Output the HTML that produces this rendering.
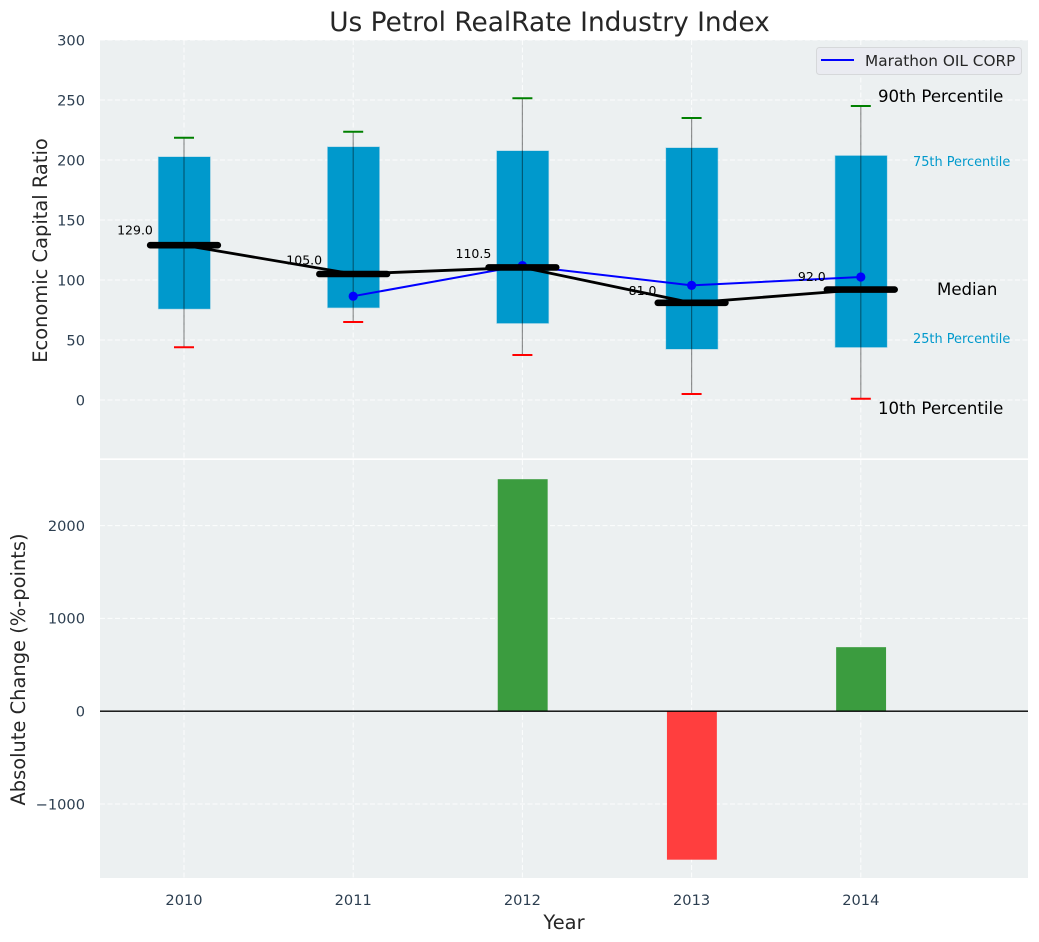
<!DOCTYPE html>
<html>
<head>
<meta charset="utf-8">
<title>Us Petrol RealRate Industry Index</title>
<style>
html,body{margin:0;padding:0;background:#fff;}
svg{display:block;font-family:"DejaVu Sans","Liberation Sans",sans-serif;}
</style>
</head>
<body>
<svg id="chart" xmlns="http://www.w3.org/2000/svg" width="1039" height="942" viewBox="0 0 1039 942">
  <rect x="0" y="0" width="1039" height="942" fill="#ffffff"/>
  <rect x="100" y="40" width="928" height="418.3" fill="#ecf0f1"/>
  <rect x="100" y="460" width="928" height="418" fill="#ecf0f1"/>
  <g id="layer-grid"></g>
  <g id="layer-top"></g>
  <g id="layer-bottom"></g>
  <g id="layer-ticks"></g>
  <text x="549.5" y="31" text-anchor="middle" font-size="26.4px" fill="#262626">Us Petrol RealRate Industry Index</text>
  <text transform="translate(47,250.5) rotate(-90)" text-anchor="middle" font-size="19.44px" fill="#262626">Economic Capital Ratio</text>
  <text transform="translate(25,669.5) rotate(-90)" text-anchor="middle" font-size="19.44px" fill="#262626">Absolute Change (%-points)</text>
  <text x="564" y="929" text-anchor="middle" font-size="19.44px" fill="#262626">Year</text>
  <text x="878" y="102" font-size="16.6px" fill="#000000">90th Percentile</text>
  <text x="913" y="166" font-size="12.9px" fill="#0099cc">75th Percentile</text>
  <text x="937" y="295" font-size="16.6px" fill="#000000">Median</text>
  <text x="913" y="343" font-size="12.9px" fill="#0099cc">25th Percentile</text>
  <text x="878" y="414" font-size="16.6px" fill="#000000">10th Percentile</text>
  <g>
    <rect x="816.5" y="47.5" width="205" height="27" rx="3" fill="#eaebf1" stroke="#d6d8da" stroke-width="1"/>
    <line x1="821" y1="60" x2="854" y2="60" stroke="#0000ff" stroke-width="2"/>
    <text x="865" y="66" font-size="15.3px" fill="#262626">Marathon OIL CORP</text>
  </g>
</svg>
<script>
const years = [2010, 2011, 2012, 2013, 2014];
const p90 = [218.5, 223.5, 251.5, 235, 245];
const p75 = [202.5, 210.8, 207.5, 210, 203.5];
const medians = [129, 105, 110.5, 81, 92];
const p25 = [76, 77, 64, 42.5, 44];
const p10 = [44, 65, 37.5, 5, 1];
const company = [null, 86.5, 112, 95.5, 102.5];
const changes = [0, 0, 2500, -1600, 690];
const topTicks = [0, 50, 100, 150, 200, 250, 300];
const bottomTicks = [-1000, 0, 1000, 2000];

const NS = 'http://www.w3.org/2000/svg';
const xScale = function (v) { return 184 + (v - 2010) * 169.2; };
const yTop = function (v) { return 400 - v * 1.2; };
const yBottom = function (v) { return 711.2 - v * 0.0928; };
const boxWidth = 0.305 * 169.2;
const medianWidth = 0.4 * 169.2;
const barWidth = 0.295 * 169.2;
const capHalf = 10;

function make(parent, tag, attrs, text) {
  const el = document.createElementNS(NS, tag);
  Object.keys(attrs).forEach(function (k) { el.setAttribute(k, attrs[k]); });
  if (text !== undefined) el.textContent = text;
  parent.appendChild(el);
  return el;
}
function tickText(v) { return v < 0 ? '\u2212' + Math.abs(v) : String(v); }

const grid = document.getElementById('layer-grid');
const topLayer = document.getElementById('layer-top');
const bottomLayer = document.getElementById('layer-bottom');
const ticks = document.getElementById('layer-ticks');
const gridStyle = { stroke: '#ffffff', 'stroke-width': 1, 'stroke-dasharray': '5 2.5', 'stroke-opacity': 0.85 };

topTicks.forEach(function (t) {
  const line = make(grid, 'line', Object.assign({ x1: 100, x2: 1028, y1: yTop(t), y2: yTop(t) }, gridStyle));
  
  
  const label = make(ticks, 'text', { x: 85, y: yTop(t) + 5.3, 'text-anchor': 'end', 'font-size': '14.6px', fill: '#2c3e50' }, tickText(t));
  
  
});
bottomTicks.forEach(function (t) {
  const line = make(grid, 'line', Object.assign({ x1: 100, x2: 1028, y1: yBottom(t), y2: yBottom(t) }, gridStyle));
  
  
  const label = make(ticks, 'text', { x: 85, y: yBottom(t) + 5.3, 'text-anchor': 'end', 'font-size': '14.6px', fill: '#2c3e50' }, tickText(t));
  
  
});
years.forEach(function (yr) {
  const upper = make(grid, 'line', Object.assign({ x1: xScale(yr), x2: xScale(yr), y1: 40, y2: 458.3 }, gridStyle));
  
  
  const lower = make(grid, 'line', Object.assign({ x1: xScale(yr), x2: xScale(yr), y1: 460, y2: 878 }, gridStyle));
  
  
  const label = make(ticks, 'text', { x: xScale(yr), y: 905, 'text-anchor': 'middle', 'font-size': '14.6px', fill: '#2c3e50' }, String(yr));
  
  
});

years.forEach(function (yr, i) {
  const x = xScale(yr);
  const box = make(topLayer, 'rect', {
    x: x - boxWidth / 2 + 0.3, y: yTop(p75[i]), width: boxWidth, height: yTop(p25[i]) - yTop(p75[i]),
    fill: '#0099cc', stroke: '#0099cc', 'stroke-opacity': 0.3, 'stroke-width': 1.2
  });
  
  
});
years.forEach(function (yr, i) {
  const x = xScale(yr);
  const whisker = make(topLayer, 'line', { x1: x, x2: x, y1: yTop(p90[i]), y2: yTop(p10[i]), stroke: '#000000', 'stroke-opacity': 0.42, 'stroke-width': 1.2 });
  
  
  const capHigh = make(topLayer, 'line', { x1: x - capHalf, x2: x + capHalf, y1: yTop(p90[i]), y2: yTop(p90[i]), stroke: '#008000', 'stroke-width': 2 });
  
  
  const capLow = make(topLayer, 'line', { x1: x - capHalf, x2: x + capHalf, y1: yTop(p10[i]), y2: yTop(p10[i]), stroke: '#ff0000', 'stroke-width': 2 });
  
  
});

const blueIdx = years.map(function (_, i) { return i; }).filter(function (i) { return company[i] !== null; });
const bluePath = make(topLayer, 'polyline', {
  points: blueIdx.map(function (i) { return xScale(years[i]) + ',' + yTop(company[i]); }).join(' '),
  fill: 'none', stroke: '#0000ff', 'stroke-width': 2
});


blueIdx.forEach(function (i) {
  const dot = make(topLayer, 'circle', { cx: xScale(years[i]), cy: yTop(company[i]), r: 4.6, fill: '#0000ff' });
  
  
});

const medianPath = make(topLayer, 'polyline', {
  points: years.map(function (yr, i) { return xScale(yr) + ',' + yTop(medians[i]); }).join(' '),
  fill: 'none', stroke: '#000000', 'stroke-width': 2.8
});


years.forEach(function (yr, i) {
  const x = xScale(yr);
  const bar = make(topLayer, 'line', { x1: x - medianWidth / 2, x2: x + medianWidth / 2, y1: yTop(medians[i]), y2: yTop(medians[i]), stroke: '#000000', 'stroke-width': 6.6, 'stroke-linecap': 'round' });
  
  
  const label = make(topLayer, 'text', { x: x - 49, y: yTop(medians[i]) - (3 + 0.06 * medians[i]), 'text-anchor': 'middle', 'font-size': '12.5px', fill: '#000000' }, medians[i].toFixed(1));
  
  
});

years.forEach(function (yr, i) {
  if (changes[i] === 0) return;
  const top = Math.min(yBottom(changes[i]), yBottom(0));
  const h = Math.abs(yBottom(changes[i]) - yBottom(0));
  const bar = make(bottomLayer, 'rect', {
    x: xScale(yr) - barWidth / 2 + 0.3, y: top, width: barWidth, height: h,
    fill: changes[i] > 0 ? '#3b9c3f' : '#ff3e3e'
  });
  
  
});
const zero = make(bottomLayer, 'line', { x1: 100, x2: 1028, y1: yBottom(0), y2: yBottom(0), stroke: '#000000', 'stroke-width': 1.3 });


</script>
</body>
</html>
